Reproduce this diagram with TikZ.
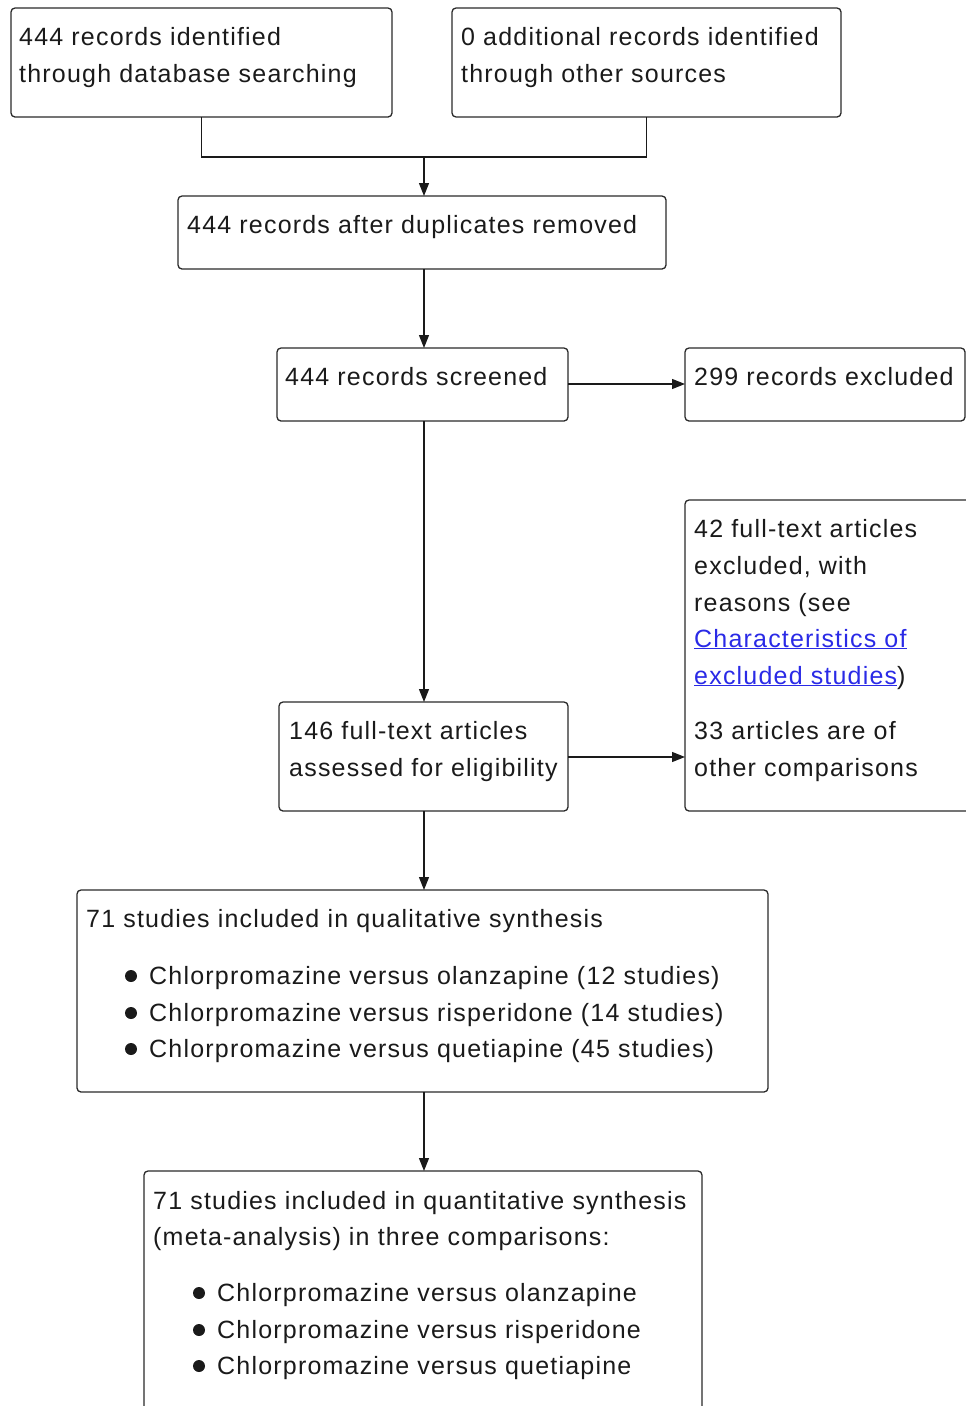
\documentclass[tikz,border=0pt]{standalone}
\usepackage{fontspec}
\setmainfont{Liberation Sans}[LetterSpace=4.8]
\usetikzlibrary{arrows.meta}
\definecolor{ink}{HTML}{1A1A1A}
\definecolor{frame}{HTML}{2A2A2A}
\definecolor{linkblue}{HTML}{2A2AE6}
\tikzset{
  box/.style={draw=frame, line width=1.3pt, rounded corners=4pt, anchor=north west, inner sep=0pt, outer sep=0pt},
  txt/.style={anchor=base west, inner sep=0pt, text=ink, font=\fontsize{25}{30}\selectfont},
  conn/.style={draw=ink, line width=1.3pt},
  arr/.style={conn, -{Triangle[length=13pt,width=10pt]}},
  bullet/.style={circle, fill=ink, minimum size=12pt, inner sep=0pt}
}
\newcommand{\lnk}[1]{\textcolor{linkblue}{\underline{#1}}}
\begin{document}
\begin{tikzpicture}[x=1pt,y=-1pt]
\useasboundingbox (0,0) rectangle (966,1406);
\clip (0,0) rectangle (966,1406);
% boxes
\node[box, minimum width=381pt, minimum height=109pt] (A) at (11,8) {};
\node[box, minimum width=389pt, minimum height=109pt] (B) at (452,8) {};
\node[box, minimum width=488pt, minimum height=73pt] (C) at (178,196) {};
\node[box, minimum width=291pt, minimum height=73pt] (D) at (277,348) {};
\node[box, minimum width=280pt, minimum height=73pt] (E) at (685,348) {};
\node[box, minimum width=289pt, minimum height=109pt] (F) at (279,702) {};
\node[box, minimum width=300pt, minimum height=311pt] (G) at (685,500) {};
\node[box, minimum width=691pt, minimum height=202pt] (H) at (77,890) {};
\node[box, minimum width=558pt, minimum height=260pt] (I) at (144,1171) {};
% texts
\node[txt] (tA1) at (19,45) {444 records identified};
\node[txt] (tA2) at (19,82) {through database searching};
\node[txt] (tB1) at (461,45) {0 additional records identified};
\node[txt] (tB2) at (461,82) {through other sources};
\node[txt] (tC) at (187,233) {444 records after duplicates removed};
\node[txt] (tD) at (285,385) {444 records screened};
\node[txt] (tE) at (694,385) {299 records excluded};
\node[txt] (tF1) at (289,739) {146 full-text articles};
\node[txt] (tF2) at (289,776) {assessed for eligibility};
\node[txt] (tG1) at (694,537) {42 full-text articles};
\node[txt] (tG2) at (694,574) {excluded, with};
\node[txt] (tG3) at (694,611) {reasons (see};
\node[txt] (tG4) at (694,647) {\lnk{Characteristics of}};
\node[txt] (tG5) at (694,684) {\lnk{excluded studies})};
\node[txt] (tG6) at (694,739) {33 articles are of};
\node[txt] (tG7) at (694,776) {other comparisons};
\node[txt] (tH) at (86,927) {71 studies included in qualitative synthesis};
\node[bullet] (bH1) at (131,976) {};
\node[bullet] (bH2) at (131,1013) {};
\node[bullet] (bH3) at (131,1049) {};
\node[txt] (tH1) at (149,984) {Chlorpromazine versus olanzapine (12 studies)};
\node[txt] (tH2) at (149,1021) {Chlorpromazine versus risperidone (14 studies)};
\node[txt] (tH3) at (149,1057) {Chlorpromazine versus quetiapine (45 studies)};
\node[txt] (tI1) at (153,1209) {71 studies included in quantitative synthesis};
\node[txt] (tI2) at (153,1245) {(meta-analysis) in three comparisons:};
\node[bullet] (bI1) at (199,1293) {};
\node[bullet] (bI2) at (199,1330) {};
\node[bullet] (bI3) at (199,1366) {};
\node[txt] (tI3) at (217,1301) {Chlorpromazine versus olanzapine};
\node[txt] (tI4) at (217,1338) {Chlorpromazine versus risperidone};
\node[txt] (tI5) at (217,1374) {Chlorpromazine versus quetiapine};
% connectors
\coordinate (J) at (424,157);
\draw[conn] (A.south) |- (J);
\draw[conn] (B.south) |- (J);
\draw[arr] (J) -- (C.north -| J);
\draw[arr] (C.south -| J) -- (D.north -| J);
\draw[arr] (D.east |- 0,384) -- (E.west |- 0,384);
\draw[arr] (D.south -| J) -- (F.north -| J);
\draw[arr] (F.east |- 0,757) -- (G.west |- 0,757);
\draw[arr] (F.south -| J) -- (H.north -| J);
\draw[arr] (H.south -| J) -- (I.north -| J);
\end{tikzpicture}
\end{document}
